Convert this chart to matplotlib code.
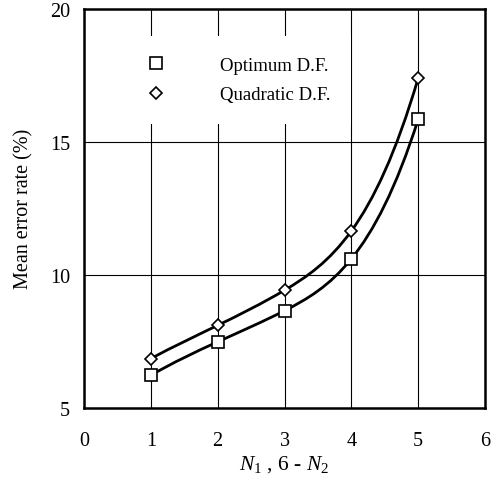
import numpy as np
import matplotlib.pyplot as plt
from matplotlib.path import Path
from matplotlib.patches import PathPatch

# ==================================
# Data
# ==================================
n_values = [1, 2, 3, 4, 5]
optimum_df = [6.22, 7.48, 8.65, 10.6, 15.85]
quadratic_df = [6.85, 8.1, 9.42, 11.65, 17.4]

x_ticks = [0, 1, 2, 3, 4, 5, 6]
y_ticks = [5, 10, 15, 20]


def smooth_path(x, y):
    # not-a-knot cubic spline through the points, drawn as Bezier segments
    x = np.asarray(x, float)
    y = np.asarray(y, float)
    n = len(x)
    h = np.diff(x)
    A = np.zeros((n, n))
    r = np.zeros(n)
    # third derivative continuous at the second and second-to-last knots
    A[0, 0], A[0, 1], A[0, 2] = h[1], -(h[0] + h[1]), h[0]
    A[-1, -3], A[-1, -2], A[-1, -1] = h[-1], -(h[-2] + h[-1]), h[-2]
    for i in range(1, n - 1):
        A[i, i - 1] = h[i - 1]
        A[i, i] = 2 * (h[i - 1] + h[i])
        A[i, i + 1] = h[i]
        r[i] = 6 * ((y[i + 1] - y[i]) / h[i] - (y[i] - y[i - 1]) / h[i - 1])
    M = np.linalg.solve(A, r)
    verts = [(x[0], y[0])]
    codes = [Path.MOVETO]
    for i in range(n - 1):
        s = (y[i + 1] - y[i]) / h[i]
        d0 = s - h[i] * (2 * M[i] + M[i + 1]) / 6
        d1 = s + h[i] * (M[i] + 2 * M[i + 1]) / 6
        verts += [(x[i] + h[i] / 3, y[i] + d0 * h[i] / 3),
                  (x[i + 1] - h[i] / 3, y[i + 1] - d1 * h[i] / 3),
                  (x[i + 1], y[i + 1])]
        codes += [Path.CURVE4] * 3
    return Path(verts, codes)


plt.rcParams["font.family"] = ["Liberation Serif", "DejaVu Serif"]
plt.rcParams["mathtext.fontset"] = "custom"
plt.rcParams["mathtext.it"] = "Liberation Serif:italic"
plt.rcParams["mathtext.rm"] = "Liberation Serif"

fig = plt.figure(figsize=(4.97, 4.89), dpi=100)
ax = fig.add_axes([0.169, 0.164, 0.807, 0.816])

for ys in (optimum_df, quadratic_df):
    ax.add_patch(PathPatch(smooth_path(n_values, ys), fc="none", ec="black",
                           lw=2.0, zorder=3))

ax.plot(n_values, optimum_df, ls="none", marker="s", ms=9, mfc="white",
        mec="black", mew=1.2, zorder=4, label="Optimum D.F.")
ax.plot(n_values, quadratic_df, ls="none", marker="D", ms=6.5, mfc="white",
        mec="black", mew=1.2, zorder=4, label="Quadratic D.F.")

ax.set_xlim(0, 6)
ax.set_ylim(5, 20)
ax.set_xticks(x_ticks)
ax.set_yticks(y_ticks)
ax.tick_params(length=0, labelsize=14.5)
ax.tick_params(axis="x", pad=17)
ax.tick_params(axis="y", pad=10)
ax.grid(True, color="black", lw=0.8)
ax.set_axisbelow(True)
for sp in ax.spines.values():
    sp.set_linewidth(1.8)

ax.set_xlabel(r"$N_1$ , 6 - $N_2$", fontsize=15.5, labelpad=2)
ax.set_ylabel("Mean error rate (%)", fontsize=14.5, labelpad=12)

leg = ax.legend(loc="upper left", bbox_to_anchor=(0.082, 0.932), fontsize=13.5,
                frameon=True, fancybox=False, framealpha=1,
                edgecolor="none", facecolor="white", borderpad=1.1,
                labelspacing=0.66, handlelength=2.0, handletextpad=2.4,
                borderaxespad=0, markerscale=0.9)
leg.set_zorder(5)

fig.savefig("out.png", dpi=100)
